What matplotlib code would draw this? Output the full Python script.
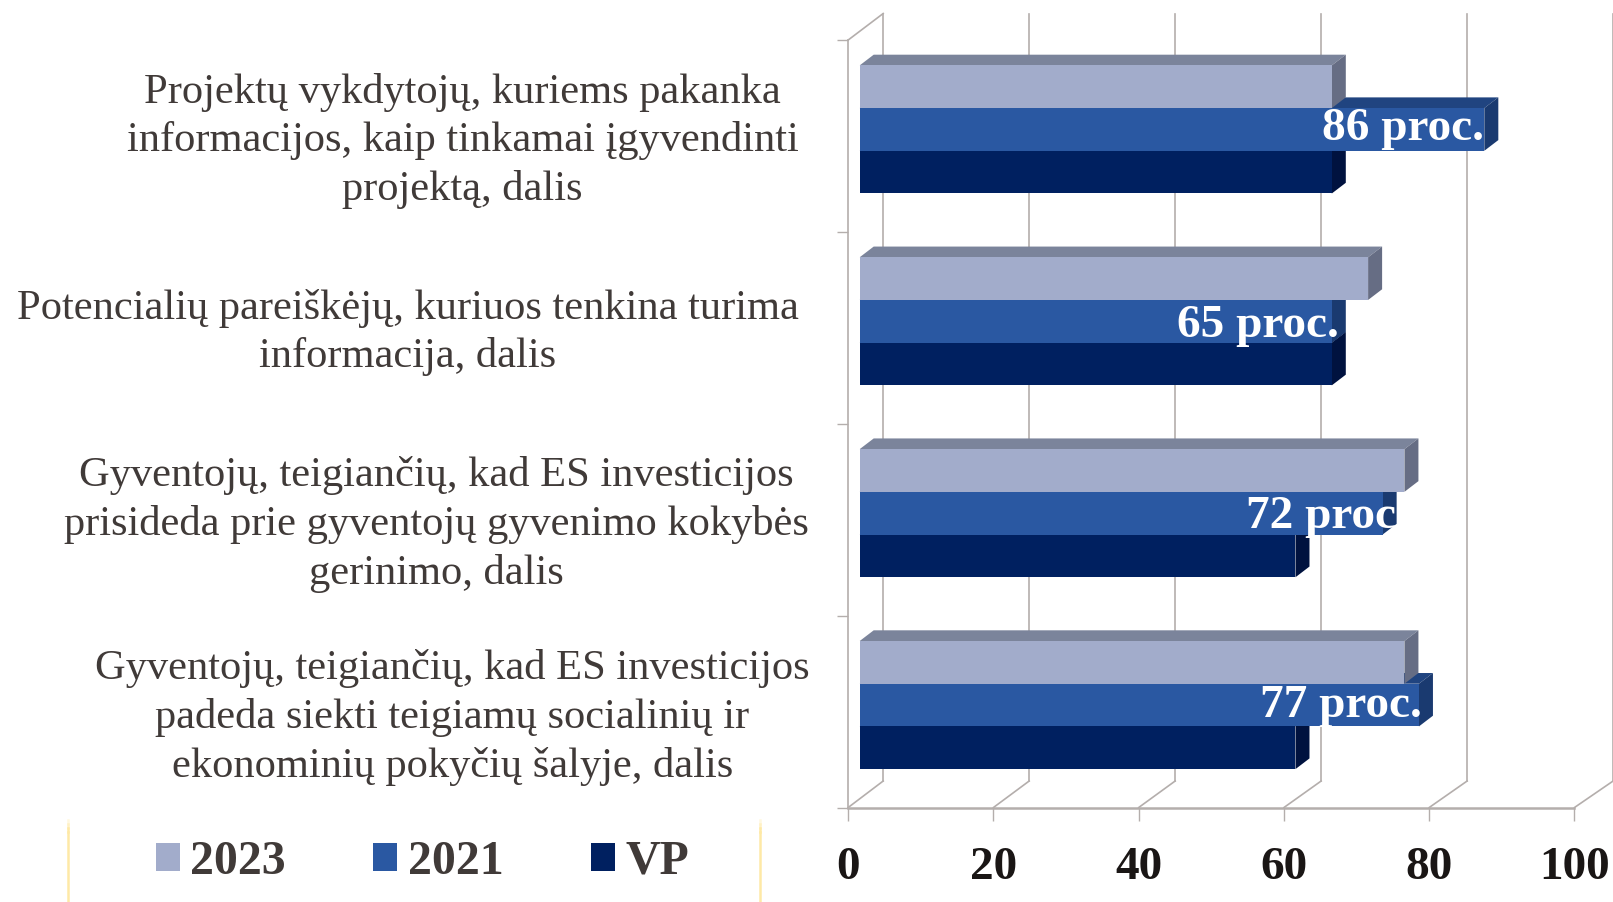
import matplotlib
matplotlib.use("Agg")
import matplotlib.pyplot as plt
from matplotlib.patches import Polygon
from matplotlib.lines import Line2D

plt.rcParams['font.family'] = ['Liberation Serif', 'DejaVu Serif']

categories = [
    "Projektų vykdytojų, kuriems pakanka\ninformacijos, kaip tinkamai įgyvendinti\nprojektą, dalis",
    "Potencialių pareiškėjų, kuriuos tenkina turima\ninformacija, dalis",
    "Gyventojų, teigiančių, kad ES investicijos\nprisideda prie gyventojų gyvenimo kokybės\ngerinimo, dalis",
    "Gyventojų, teigiančių, kad ES investicijos\npadeda siekti teigiamų socialinių ir\nekonominių pokyčių šalyje, dalis",
]
series_names = ["2023", "2021", "VP"]
values_2023 = [65, 70, 75, 75]
values_2021 = [86, 65, 72, 77]
values_vp = [65, 65, 60, 60]
data_labels = ["86 proc.", "65 proc.", "72 proc", "77 proc."]
x_ticks = [0, 20, 40, 60, 80, 100]

W, H = 1613, 902
INK = "#403a38"
GRID = "#b4aeac"
front = ["#a2accb", "#2a58a2", "#002060"]
top = ["#7b849b", "#204480", "#001848"]
side = ["#666d84", "#1a3a70", "#00123f"]

fig = plt.figure(figsize=(W / 100, H / 100), dpi=100, facecolor="white")
L, R, T, B = 848.2, 1574.5, 40, 807.5
ax = fig.add_axes([L / W, 1 - B / H, (R - L) / W, (B - T) / H])
ax.set_xlim(0, 100)
ax.set_ylim(3.5, -0.5)
ax.patch.set_visible(False)

px_x = (R - L) / 100
px_y = (B - T) / 4
wall_dx, wall_dy = 35 / px_x, 26.5 / px_y
wall_scale = 1.005
bar_dx, bar_dy = 14 / px_x, 10.7 / px_y
bar_h = 42.7 / px_y
origin = 11.5 / px_x
shift = -6.5 / px_y

for s in ("top", "right"):
    ax.spines[s].set_visible(False)
for s in ("left", "bottom"):
    ax.spines[s].set_color(GRID)
ax.spines["bottom"].set_linewidth(1.8)
ax.spines["left"].set_linewidth(1.2)

ax.set_xticks(x_ticks)
ax.set_yticks([-0.5, 0.5, 1.5, 2.5, 3.5])
ax.set_yticklabels([])
ax.tick_params(axis="x", length=9.5, width=1, color=GRID, pad=19, labelsize=34, labelcolor="#1a1615")
ax.tick_params(axis="y", length=8, width=1, color=GRID)
for lab in ax.get_xticklabels():
    lab.set_fontweight("bold")

# back wall and floor
for x in x_ticks:
    xb = x * wall_scale + wall_dx
    ax.plot([xb, xb], [3.5 - wall_dy, -0.5 - wall_dy], color=GRID, lw=1.2, clip_on=False, zorder=1)
    ax.plot([x, xb], [3.5, 3.5 - wall_dy], color=GRID, lw=1.2, clip_on=False, zorder=1)
ax.plot([0, wall_dx], [-0.5, -0.5 - wall_dy], color=GRID, lw=1.2, clip_on=False, zorder=1)

# bars: drawn back-to-front so upper series overlap lower ones
all_series = [values_2023, values_2021, values_vp]
z = 3
for idx in (2, 1, 0):
    vals = all_series[idx]
    ys = [k + shift + (idx - 1) * bar_h for k in range(len(vals))]
    for y, v in zip(ys, vals):
        x1 = origin + v
        y0, y1 = y - bar_h / 2, y + bar_h / 2
        ax.add_patch(Polygon([(origin, y0), (x1, y0), (x1 + bar_dx, y0 - bar_dy), (origin + bar_dx, y0 - bar_dy)],
                             fc=top[idx], ec="none", zorder=z, clip_on=False))
        ax.add_patch(Polygon([(x1, y0), (x1 + bar_dx, y0 - bar_dy), (x1 + bar_dx, y1 - bar_dy), (x1, y1)],
                             fc=side[idx], ec="none", zorder=z, clip_on=False))
    ax.barh(ys, vals, left=origin, height=bar_h, color=front[idx], label=series_names[idx],
            zorder=z + 0.5, clip_on=False)
    z += 1

# data labels
label_shift = [0, 7, 13, 3]
label_rise = [5, -1, 0, 3]
for k, (txt, v, ds, dr) in enumerate(zip(data_labels, values_2021, label_shift, label_rise)):
    ax.annotate(txt, (origin + v, k + shift), xytext=(ds * 0.72, -3 + dr * 0.72), textcoords="offset points",
                ha="right", va="center", color="white", fontsize=34, fontweight="bold", zorder=20,
                annotation_clip=False)

# category labels
cat_x = [462.5, 407.5, 436.5, 452.5]
cat_y = [141, 332.5, 524.5, 717.5]
for txt, cx, cy in zip(categories, cat_x, cat_y):
    fig.text(cx / W, 1 - cy / H, txt, ha="center", va="center", fontsize=30.65, color=INK,
             linespacing=1.32, multialignment="center")

# legend
h, l = ax.get_legend_handles_labels()
order = [l.index(n) for n in series_names]
leg = fig.legend([h[i] for i in order], [l[i] for i in order], ncol=3, frameon=False,
                 loc="center left", bbox_to_anchor=(156 / W, 1 - 862 / H), borderpad=0, borderaxespad=0,
                 prop={"size": 34.5, "weight": "bold"}, labelcolor=INK,
                 handlelength=0.5, handleheight=0.53, handletextpad=0.22, columnspacing=1.82)

# pale panel edges
for px in (68, 760):
    for i, c in enumerate(["#fff8df", "#fff1c4", "#fee9a6"]):
        fig.add_artist(Line2D([px / W] * 2, [1 - (820 + i * 4) / H, 1 - (824 + i * 4) / H], color=c, lw=1.8))
    fig.add_artist(Line2D([px / W] * 2, [1 - 832 / H, 0], color="#fee9a6", lw=1.8))

fig.savefig("out.png", dpi=100)
